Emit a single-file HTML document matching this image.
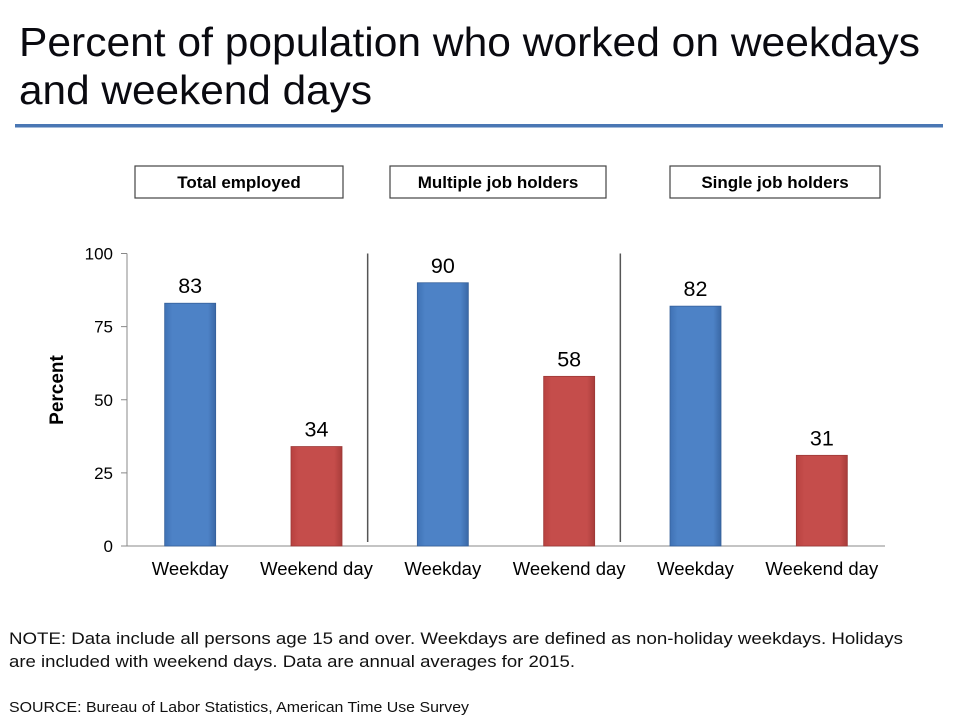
<!DOCTYPE html>
<html><head><meta charset="utf-8"><style>
body{margin:0;background:#fff;width:955px;height:717px;overflow:hidden;font-family:"Liberation Sans",Arial,sans-serif}
svg{display:block}
</style></head><body>
<svg id="chart" width="955" height="717" xmlns="http://www.w3.org/2000/svg">
<defs>
<linearGradient id="gb" x1="0" x2="1"><stop offset="0" stop-color="#3f72b5"/><stop offset="0.15" stop-color="#4d82c6"/><stop offset="0.85" stop-color="#4d82c6"/><stop offset="1" stop-color="#3a68a6"/></linearGradient>
<linearGradient id="gr" x1="0" x2="1"><stop offset="0" stop-color="#b8413f"/><stop offset="0.15" stop-color="#c54d4b"/><stop offset="0.85" stop-color="#c54d4b"/><stop offset="1" stop-color="#a83c3a"/></linearGradient>
</defs>
<text x="19" y="56" font-size="41" textLength="901" lengthAdjust="spacingAndGlyphs" fill="#0a0a10">Percent of population who worked on weekdays</text>
<text x="19" y="104" font-size="41" textLength="353" lengthAdjust="spacingAndGlyphs" fill="#0a0a10">and weekend days</text>
<rect x="15" y="124" width="928" height="3.5" fill="#4a77b4"/>
<g id="panels"></g>
<g id="axis"></g>
<g id="bars"></g>
<text transform="translate(63,390) rotate(-90)" text-anchor="middle" font-size="19" font-weight="bold">Percent</text>
<text x="9" y="644" font-size="17" textLength="894" lengthAdjust="spacingAndGlyphs" fill="#111">NOTE:  Data include all persons age 15 and over. Weekdays are defined as non-holiday weekdays. Holidays</text>
<text x="9" y="667" font-size="17" textLength="566" lengthAdjust="spacingAndGlyphs" fill="#111">are included with weekend days. Data are annual averages for 2015.</text>
<text x="9" y="712" font-size="15" textLength="460" lengthAdjust="spacingAndGlyphs" fill="#111">SOURCE: Bureau of Labor Statistics, American Time Use Survey</text>
</svg>
<script>
const groups = ["Total employed","Multiple job holders","Single job holders"];
const categories = ["Weekday","Weekend day"];
const weekdayValues = [83,90,82];
const weekendValues = [34,58,31];
const yTicks = [0,25,50,75,100];

const NS="http://www.w3.org/2000/svg";
const x0=127, x1=885, yTop=253.5, yBot=546;
const y = v => yBot - (v/100)*(yBot-yTop);
const groupW=(x1-x0)/groups.length;
const boxLeft=[135,390,670], boxWidth=[208,216,210];
function el(tag,attrs,parent,text){const e=document.createElementNS(NS,tag);for(const k in attrs)e.setAttribute(k,attrs[k]);if(text!==undefined)e.textContent=text;parent.appendChild(e);return e;}
const axis=document.getElementById('axis'), bars=document.getElementById('bars'), panels=document.getElementById('panels');
let a=el('line',{x1:x0,y1:yTop,x2:x0,y2:yBot,stroke:'#888','stroke-width':1},axis);


a=el('line',{x1:x0,y1:yBot,x2:x1,y2:yBot,stroke:'#888','stroke-width':1},axis);


yTicks.forEach(t=>{
  let l=el('line',{x1:x0-6,y1:y(t),x2:x0,y2:y(t),stroke:'#888'},axis);
  
  
  let tx=el('text',{x:x0-14,y:y(t)+6,'text-anchor':'end','font-size':17},axis,String(t));
  
  
});
groups.forEach((g,i)=>{
  const gx=x0+i*groupW;
  const box=el('rect',{x:boxLeft[i],y:166,width:boxWidth[i],height:32,fill:'#fff',stroke:'#444','stroke-width':1.2},panels);
  
  
  const ht=el('text',{x:boxLeft[i]+boxWidth[i]/2,y:188,'text-anchor':'middle','font-size':17,'font-weight':'bold'},panels,g);
  
  
  if(i>0){
    const s=el('line',{x1:gx-12,y1:yTop,x2:gx-12,y2:yBot-4,stroke:'#555','stroke-width':1.5},panels);
    
    
  }
  [weekdayValues[i],weekendValues[i]].forEach((v,j)=>{
    const bcx=gx+groupW*(j===0?0.25:0.75);
    const r=el('rect',{x:bcx-25.5,y:y(v),width:51,height:yBot-y(v),fill:j===0?'url(#gb)':'url(#gr)',stroke:j===0?'#35609a':'#9c3836','stroke-width':0.8},bars);
    
    
    const lt=el('text',{x:bcx,y:y(v)-10,'text-anchor':'middle','font-size':21.5},bars,String(v));
    
    
    const ct=el('text',{x:bcx,y:575,'text-anchor':'middle','font-size':18.5},bars,categories[j]);
    
    
  });
});
</script>
</body></html>
